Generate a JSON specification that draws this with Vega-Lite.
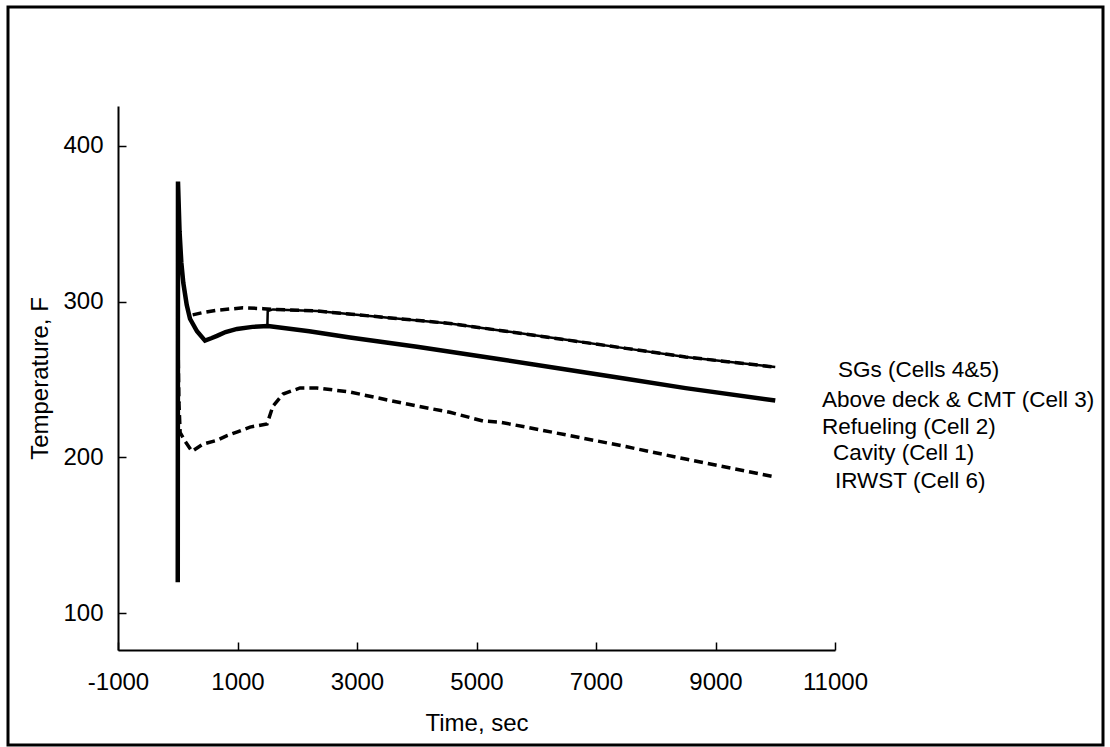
{
  "$schema": "https://vega.github.io/schema/vega-lite/v6.json",
  "width": 1095,
  "height": 738,
  "autosize": {"type": "none"},
  "padding": {"left": 8, "top": 7, "right": 7, "bottom": 2},
  "background": "white",
  "config": {
    "view": {"stroke": "black", "strokeWidth": 3},
    "font": "Liberation Sans",
    "axis": {
      "grid": false,
      "domainColor": "black",
      "domainWidth": 2,
      "tickColor": "black",
      "tickWidth": 1.5,
      "tickSize": -8,
      "labelFont": "Liberation Sans",
      "labelFontSize": 24,
      "labelColor": "black",
      "labelFlush": false,
      "labelOverlap": false,
      "titleFont": "Liberation Sans",
      "titleFontSize": 24,
      "titleFontWeight": "normal",
      "titleColor": "black"
    }
  },
  "datasets": {
    "curves": [
      {"series": "Above deck & CMT (Cell 3)", "t": 0, "temp": 120},
      {"series": "Above deck & CMT (Cell 3)", "t": 4, "temp": 377},
      {"series": "Above deck & CMT (Cell 3)", "t": 30, "temp": 345},
      {"series": "Above deck & CMT (Cell 3)", "t": 60, "temp": 325},
      {"series": "Above deck & CMT (Cell 3)", "t": 93, "temp": 312},
      {"series": "Above deck & CMT (Cell 3)", "t": 150, "temp": 298},
      {"series": "Above deck & CMT (Cell 3)", "t": 205, "temp": 289},
      {"series": "Above deck & CMT (Cell 3)", "t": 322, "temp": 281},
      {"series": "Above deck & CMT (Cell 3)", "t": 456, "temp": 275},
      {"series": "Above deck & CMT (Cell 3)", "t": 560, "temp": 276.5},
      {"series": "Above deck & CMT (Cell 3)", "t": 657, "temp": 278},
      {"series": "Above deck & CMT (Cell 3)", "t": 800, "temp": 280.5},
      {"series": "Above deck & CMT (Cell 3)", "t": 992, "temp": 282.5},
      {"series": "Above deck & CMT (Cell 3)", "t": 1250, "temp": 283.8},
      {"series": "Above deck & CMT (Cell 3)", "t": 1510, "temp": 284.4},
      {"series": "Above deck & CMT (Cell 3)", "t": 2200, "temp": 281},
      {"series": "Above deck & CMT (Cell 3)", "t": 2883, "temp": 277},
      {"series": "Above deck & CMT (Cell 3)", "t": 4004, "temp": 271},
      {"series": "Above deck & CMT (Cell 3)", "t": 5393, "temp": 263},
      {"series": "Above deck & CMT (Cell 3)", "t": 6500, "temp": 256.5},
      {"series": "Above deck & CMT (Cell 3)", "t": 7500, "temp": 250.5},
      {"series": "Above deck & CMT (Cell 3)", "t": 8500, "temp": 244.5},
      {"series": "Above deck & CMT (Cell 3)", "t": 10000, "temp": 236.5},
      {"series": "Refueling (Cell 2)", "t": 1500, "temp": 284.4},
      {"series": "Refueling (Cell 2)", "t": 1506, "temp": 294},
      {"series": "Refueling (Cell 2)", "t": 1594, "temp": 295},
      {"series": "Refueling (Cell 2)", "t": 2330, "temp": 294},
      {"series": "Refueling (Cell 2)", "t": 3435, "temp": 290},
      {"series": "Refueling (Cell 2)", "t": 4556, "temp": 286},
      {"series": "Refueling (Cell 2)", "t": 5393, "temp": 281.5},
      {"series": "Refueling (Cell 2)", "t": 6500, "temp": 275.5},
      {"series": "Refueling (Cell 2)", "t": 7500, "temp": 270},
      {"series": "Refueling (Cell 2)", "t": 8500, "temp": 264.5},
      {"series": "Refueling (Cell 2)", "t": 10000, "temp": 258},
      {"series": "SGs (Cells 4&5)", "t": 250, "temp": 291.5},
      {"series": "SGs (Cells 4&5)", "t": 400, "temp": 292.8},
      {"series": "SGs (Cells 4&5)", "t": 657, "temp": 294.5},
      {"series": "SGs (Cells 4&5)", "t": 1092, "temp": 296},
      {"series": "SGs (Cells 4&5)", "t": 1427, "temp": 295.5},
      {"series": "SGs (Cells 4&5)", "t": 1594, "temp": 295},
      {"series": "SGs (Cells 4&5)", "t": 2330, "temp": 294},
      {"series": "SGs (Cells 4&5)", "t": 3435, "temp": 290},
      {"series": "SGs (Cells 4&5)", "t": 4556, "temp": 286},
      {"series": "SGs (Cells 4&5)", "t": 5393, "temp": 281.5},
      {"series": "SGs (Cells 4&5)", "t": 6500, "temp": 275.5},
      {"series": "SGs (Cells 4&5)", "t": 7500, "temp": 270},
      {"series": "SGs (Cells 4&5)", "t": 8500, "temp": 264.5},
      {"series": "SGs (Cells 4&5)", "t": 10000, "temp": 258},
      {"series": "Cavity (Cell 1)", "t": 0, "temp": 290},
      {"series": "Cavity (Cell 1)", "t": 10, "temp": 260},
      {"series": "Cavity (Cell 1)", "t": 20, "temp": 235},
      {"series": "Cavity (Cell 1)", "t": 40, "temp": 216},
      {"series": "Cavity (Cell 1)", "t": 121, "temp": 210.5},
      {"series": "Cavity (Cell 1)", "t": 238, "temp": 204},
      {"series": "Cavity (Cell 1)", "t": 422, "temp": 208.6},
      {"series": "Cavity (Cell 1)", "t": 657, "temp": 211},
      {"series": "Cavity (Cell 1)", "t": 824, "temp": 214},
      {"series": "Cavity (Cell 1)", "t": 1000, "temp": 216.5},
      {"series": "Cavity (Cell 1)", "t": 1209, "temp": 219.5},
      {"series": "Cavity (Cell 1)", "t": 1494, "temp": 221.5},
      {"series": "Cavity (Cell 1)", "t": 1594, "temp": 233},
      {"series": "Cavity (Cell 1)", "t": 1762, "temp": 240.7},
      {"series": "Cavity (Cell 1)", "t": 2046, "temp": 244.6},
      {"series": "Cavity (Cell 1)", "t": 2330, "temp": 244.6},
      {"series": "Cavity (Cell 1)", "t": 2883, "temp": 242},
      {"series": "Cavity (Cell 1)", "t": 3435, "temp": 237.5},
      {"series": "Cavity (Cell 1)", "t": 4004, "temp": 233},
      {"series": "Cavity (Cell 1)", "t": 4556, "temp": 229},
      {"series": "Cavity (Cell 1)", "t": 5109, "temp": 223.4},
      {"series": "Cavity (Cell 1)", "t": 5393, "temp": 222.7},
      {"series": "Cavity (Cell 1)", "t": 6500, "temp": 214.5},
      {"series": "Cavity (Cell 1)", "t": 7500, "temp": 207},
      {"series": "Cavity (Cell 1)", "t": 8500, "temp": 199},
      {"series": "Cavity (Cell 1)", "t": 10000, "temp": 187.5}
    ],
    "labels": [
      {"label": "SGs (Cells 4&5)", "t": 11050, "temp": 256.1},
      {"label": "Above deck & CMT (Cell 3)", "t": 10782, "temp": 236.8},
      {"label": "Refueling (Cell 2)", "t": 10782, "temp": 219.5},
      {"label": "Cavity (Cell 1)", "t": 10966, "temp": 202.8},
      {"label": "IRWST (Cell 6)", "t": 11000, "temp": 184.9}
    ]
  },
  "encoding": {
    "x": {
      "field": "t",
      "type": "quantitative",
      "scale": {"domain": [-1000, 11000], "range": [110, 827], "nice": false, "zero": false},
      "axis": {
        "title": "Time, sec",
        "values": [-1000, 1000, 3000, 5000, 7000, 9000, 11000],
        "labelExpr": "'' + datum.value",
        "offset": -95,
        "labelPadding": 28,
        "titlePadding": 17
      }
    },
    "y": {
      "field": "temp",
      "type": "quantitative",
      "scale": {"domain": [76.5, 425.5], "range": [643, 99], "nice": false, "zero": false},
      "axis": {
        "title": "Temperature, F",
        "values": [100, 200, 300, 400],
        "format": "d",
        "offset": -110,
        "labelPadding": 23,
        "titlePadding": 10
      }
    }
  },
  "layer": [
    {
      "data": {"name": "curves"},
      "transform": [{"filter": "datum.series === 'Refueling (Cell 2)'"}],
      "mark": {"type": "line", "color": "black", "strokeWidth": 2.5},
      "encoding": {"detail": {"field": "series"}}
    },
    {
      "data": {"name": "curves"},
      "transform": [{"filter": "datum.series === 'SGs (Cells 4&5)' || datum.series === 'Cavity (Cell 1)'"}],
      "mark": {"type": "line", "color": "black", "strokeWidth": 3.5, "strokeDash": [9, 5]},
      "encoding": {"detail": {"field": "series"}}
    },
    {
      "data": {"name": "curves"},
      "transform": [{"filter": "datum.series === 'Above deck & CMT (Cell 3)'"}],
      "mark": {"type": "line", "color": "black", "strokeWidth": 4.5},
      "encoding": {"detail": {"field": "series"}}
    },
    {
      "data": {"name": "labels"},
      "mark": {"type": "text", "align": "left", "baseline": "middle", "font": "Liberation Sans", "fontSize": 22.5, "color": "black"},
      "encoding": {"text": {"field": "label"}}
    }
  ]
}
